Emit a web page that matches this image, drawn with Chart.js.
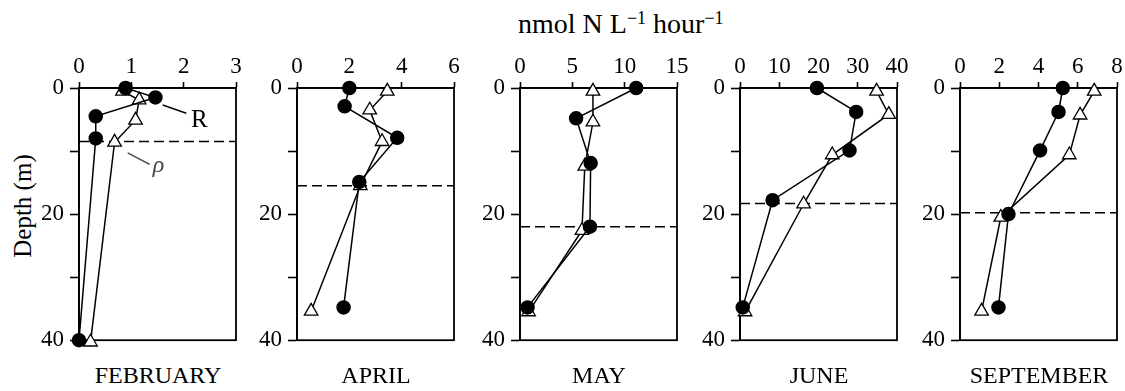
<!DOCTYPE html>
<html>
<head>
<meta charset="utf-8">
<script src="https://cdn.jsdelivr.net/npm/chart.js@4.4.1/dist/chart.umd.min.js"></script>
<style>
  body { margin: 0; background: #fff; }
  #wrap { position: relative; width: 1125px; height: 391px; font-family: "Liberation Serif", "Times New Roman", serif; color: #000; }
  .panel { position: absolute; top: 45px; }
  .month { position: absolute; top: 363px; width: 220px; text-align: center; font-size: 24px; line-height: 24px; }
  #title { position: absolute; top: 4px; left: 518px; font-size: 28px; line-height: 28px; white-space: nowrap; }
  #title sup { font-size: 18px; vertical-align: 9px; }
  #ylab { position: absolute; left: 23px; top: 206px; font-size: 25px; white-space: nowrap; transform: translate(-50%, -50%) rotate(-90deg); }
</style>
</head>
<body>
<div id="wrap">
  <div id="title">nmol N L<sup>&minus;1</sup> hour<sup>&minus;1</sup></div>
  <div id="ylab">Depth (m)</div>
</div>
<script>
// months and x-axis ranges
var months = ['FEBRUARY', 'APRIL', 'MAY', 'JUNE', 'SEPTEMBER'];
var xMax = [3, 6, 15, 40, 8];
var xStep = [1, 2, 5, 10, 2];

// R (filled circles): rate values and depths (m)
var rValues = [
    [0.89, 1.46, 0.32, 0.32, 0],
    [2.0, 1.82, 3.83, 2.38, 1.78],
    [11.1, 5.36, 6.75, 6.68, 0.72],
    [19.6, 29.6, 27.9, 8.3, 0.7],
    [5.24, 5.02, 4.08, 2.47, 1.96]
];
var rDepths = [
    [0, 1.5, 4.5, 8, 40],
    [0, 2.9, 7.9, 14.9, 34.8],
    [0, 4.8, 11.9, 22, 34.8],
    [0, 3.8, 9.9, 17.8, 34.8],
    [0, 3.8, 9.9, 20, 34.8]
];

// rho (open triangles): rate values and depths (m)
var rhoValues = [
    [0.83, 1.15, 1.08, 0.68, 0.22],
    [3.45, 2.78, 3.25, 2.42, 0.54],
    [6.97, 6.97, 6.19, 5.92, 0.82],
    [34.8, 37.9, 23.5, 16.2, 1.3],
    [6.84, 6.12, 5.57, 2.08, 1.1]
];
var rhoDepths = [
    [0.5, 1.9, 5.1, 8.6, 40.3],
    [0.5, 3.5, 8.5, 15.5, 35.4],
    [0.5, 5.4, 12.4, 22.6, 35.5],
    [0.5, 4.2, 10.6, 18.4, 35.5],
    [0.5, 4.3, 10.6, 20.5, 35.4]
];

// mixed layer depth (dashed line), m
var mixDepth = [8.5, 15.5, 22, 18.3, 19.8];

var plotLeft = [79, 297, 520, 740, 960];
var tickFont = { family: 'Liberation Serif', size: 23 };

function pairs(xs, ys) {
    return xs.map(function (x, i) { return { x: x, y: ys[i] }; });
}

var frame = {
    id: 'frame',
    beforeDatasetsDraw: function (chart) {
        var a = chart.chartArea, c = chart.ctx;
        c.save();
        c.strokeStyle = '#000';
        c.lineWidth = 1.8;
        c.strokeRect(a.left, a.top, a.right - a.left, a.bottom - a.top);
        c.restore();
    }
};

// "R" and "rho" labels in the first panel
var labels = {
    id: 'labels',
    afterDraw: function (chart) {
        var c = chart.ctx, x = chart.scales.x, y = chart.scales.y;
        c.save();
        c.lineWidth = 1.4;
        c.strokeStyle = '#000';
        c.beginPath();
        c.moveTo(x.getPixelForValue(1.6), y.getPixelForValue(2.7));
        c.lineTo(x.getPixelForValue(2.05), y.getPixelForValue(4.0));
        c.stroke();
        c.strokeStyle = '#444';
        c.beginPath();
        c.moveTo(x.getPixelForValue(0.93), y.getPixelForValue(10.3));
        c.lineTo(x.getPixelForValue(1.35), y.getPixelForValue(12.1));
        c.stroke();
        c.textAlign = 'center';
        c.textBaseline = 'middle';
        c.fillStyle = '#000';
        c.font = '25px "Liberation Serif"';
        c.fillText('R', x.getPixelForValue(2.3), y.getPixelForValue(5.1));
        c.fillStyle = '#444';
        c.font = 'italic 24px "Liberation Serif"';
        c.fillText('\u03C1', x.getPixelForValue(1.52), y.getPixelForValue(12.4));
        c.restore();
    }
};

var wrap = document.getElementById('wrap');

months.forEach(function (m, i) {
    var div = document.createElement('div');
    div.className = 'panel';
    div.style.left = (plotLeft[i] - 50) + 'px';
    var cv = document.createElement('canvas');
    cv.width = 222;
    cv.height = 315;
    div.appendChild(cv);
    wrap.appendChild(div);

    var lab = document.createElement('div');
    lab.className = 'month';
    lab.style.left = (plotLeft[i] + 79 - 110) + 'px';
    lab.textContent = m;
    wrap.appendChild(lab);

    new Chart(cv, {
        type: 'scatter',
        data: {
            datasets: [{
                label: 'R',
                data: pairs(rValues[i], rDepths[i]),
                showLine: true,
                borderColor: '#000',
                borderWidth: 1.5,
                pointStyle: 'circle',
                pointRadius: 6.5,
                pointBackgroundColor: '#000',
                pointBorderColor: '#000',
                clip: false
            }, {
                label: 'rho',
                data: pairs(rhoValues[i], rhoDepths[i]),
                showLine: true,
                borderColor: '#000',
                borderWidth: 1.5,
                pointStyle: 'triangle',
                pointRadius: 7.8,
                pointBackgroundColor: '#fff',
                pointBorderColor: '#000',
                pointBorderWidth: 1.3,
                clip: false
            }, {
                label: 'mixed layer',
                data: [{ x: 0, y: mixDepth[i] }, { x: xMax[i], y: mixDepth[i] }],
                showLine: true,
                borderColor: '#000',
                borderWidth: 1.5,
                borderDash: [10, 5],
                pointRadius: 0
            }]
        },
        options: {
            animation: false,
            responsive: false,
            layout: { padding: { left: 5, right: 15, top: 0, bottom: 16 } },
            plugins: { legend: { display: false }, tooltip: { enabled: false } },
            scales: {
                x: {
                    position: 'top',
                    min: 0,
                    max: xMax[i],
                    ticks: { stepSize: xStep[i], font: tickFont, color: '#000', padding: 1, maxRotation: 0 },
                    grid: { drawOnChartArea: false, tickLength: 6, color: '#000', tickWidth: 1.6 },
                    border: { color: '#000', width: 1.8 },
                    afterFit: function (s) { s.height = 43; }
                },
                y: {
                    reverse: true,
                    min: 0,
                    max: 40,
                    ticks: {
                        stepSize: 10, font: tickFont, color: '#000', padding: 6,
                        callback: function (v) { return v % 20 === 0 ? v : ''; }
                    },
                    grid: { drawOnChartArea: false, tickLength: 9, color: '#000', tickWidth: 1.6 },
                    border: { color: '#000', width: 1.8 },
                    afterFit: function (s) { s.width = 45; }
                }
            }
        },
        plugins: i === 0 ? [frame, labels] : [frame]
    });
});
</script>
</body>
</html>
